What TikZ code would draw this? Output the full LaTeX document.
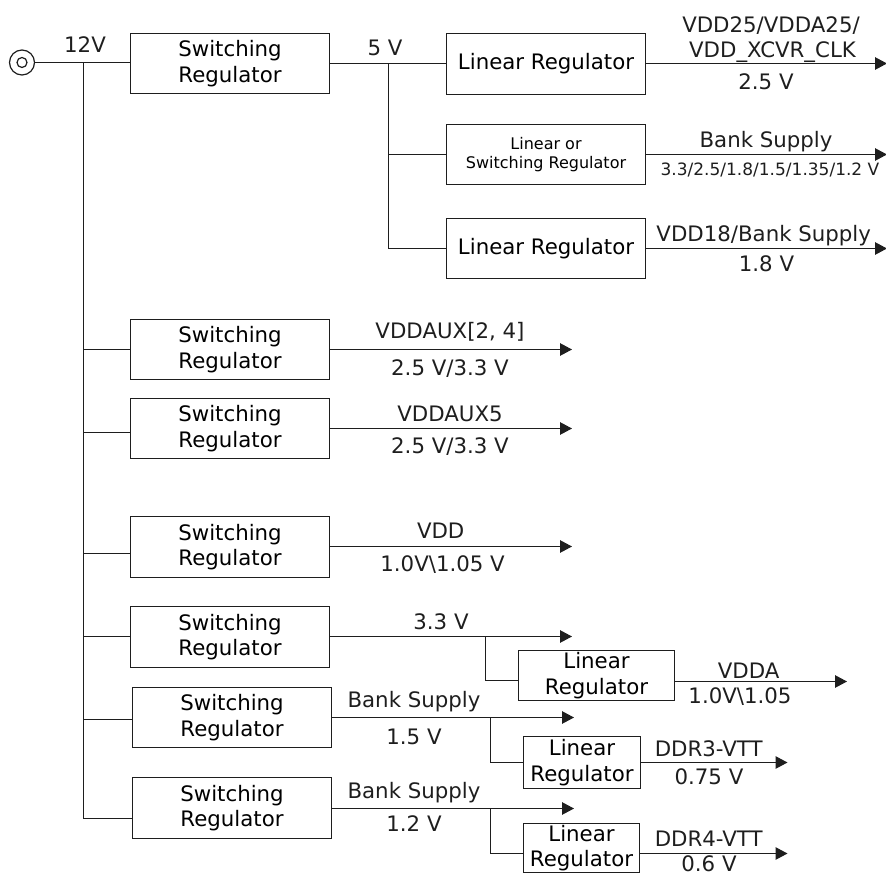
\documentclass[tikz,border=0pt]{standalone}
\usepackage{fontspec}
\setmainfont{DejaVu Sans}
\usetikzlibrary{arrows.meta}
\definecolor{ink}{HTML}{1E1E1E}
\tikzset{
  wire/.style={draw=ink,line width=1.2pt},
  arr/.style={wire,-{Triangle[length=12pt,width=12.5pt]}},
  box/.style={draw=ink,line width=1.2pt,inner sep=0pt,align=center,font=\fontsize{21.3}{25.5}\selectfont},
  smallbox/.style={box,font=\fontsize{16}{19}\selectfont},
  lab/.style={anchor=base,inner sep=0pt,text=ink,font=\fontsize{21.3}{24}\selectfont},
  tinylab/.style={lab,font=\fontsize{17}{19}\selectfont},
  sz/.style 2 args={minimum width=#1pt,minimum height=#2pt}
}
\begin{document}
\begin{tikzpicture}[x=1pt,y=-1pt]
\useasboundingbox (0,0) rectangle (886,877);
% source
\node (jack) [circle,draw=ink,line width=1.2pt,minimum size=25pt,inner sep=0pt] at (22,62.5) {};
\node (jackin) [circle,draw=ink,line width=1.2pt,minimum size=10pt,inner sep=0pt] at (22,62.5) {};
% first branch boxes
\node (s0) [box,sz={199}{60}] at (230,63.5) {Switching\\Regulator};
\node (l1) [box,sz={199}{61}] at (546,64) {Linear Regulator};
\node (l2) [smallbox,sz={199}{60}] at (546,154.5) {Linear or\\Switching Regulator};
\node (l3) [box,sz={199}{60}] at (546,248.5) {Linear Regulator};
% lower switching boxes
\node (sa) [box,sz={199}{60}] at (230,349.5) {Switching\\Regulator};
\node (sb) [box,sz={199}{60}] at (230,428.5) {Switching\\Regulator};
\node (sc) [box,sz={199}{61}] at (230,547) {Switching\\Regulator};
\node (sd) [box,sz={199}{61}] at (230,637) {Switching\\Regulator};
\node (se) [box,sz={199}{60}] at (232,717.5) {Switching\\Regulator};
\node (sf) [box,sz={199}{61}] at (232,808) {Switching\\Regulator};
% lower linear boxes
\node (ld) [box,sz={156}{50}] at (596.5,675.5) {Linear\\Regulator};
\node (le) [box,sz={117}{52}] at (582,762.5) {Linear\\Regulator};
\node (lf) [box,sz={116}{49}] at (581.5,848) {Linear\\Regulator};
% junctions and free ends
\coordinate (bus0) at (83.5,62.5);
\coordinate (busa) at (83.5,349.5);
\coordinate (busb) at (83.5,432.5);
\coordinate (busc) at (83.5,553.5);
\coordinate (busd) at (83.5,636.5);
\coordinate (buse) at (83.5,719.5);
\coordinate (busf) at (83.5,818.5);
\coordinate (j5) at (388.5,63.5);
\coordinate (j5b) at (388.5,154.5);
\coordinate (j5c) at (388.5,248.5);
\coordinate (jd) at (485.5,636.5);
\coordinate (jd2) at (485.5,680.5);
\coordinate (je) at (490.5,717.5);
\coordinate (je2) at (490.5,762.5);
\coordinate (jf) at (490.5,808.5);
\coordinate (jf2) at (490.5,853.5);
\coordinate (t1) at (887,63.5);
\coordinate (t2) at (887,154.5);
\coordinate (t3) at (887,248.5);
\coordinate (ta) at (572,349.5);
\coordinate (tb) at (572,428.5);
\coordinate (tc) at (572,546.5);
\coordinate (td) at (572,636.5);
\coordinate (te) at (574,717.5);
\coordinate (tf) at (574,808.5);
\coordinate (tld) at (847,681.5);
\coordinate (tle) at (787.5,762.5);
\coordinate (tlf) at (787.5,853.5);
% input and bus
\draw[wire] (jack) -- (s0.west |- jack);
\draw[wire] (bus0) -- (busf) -- (busf -| sf.west);
\draw[wire] (busa) -- (busa -| sa.west);
\draw[wire] (busb) -- (busb -| sb.west);
\draw[wire] (busc) -- (busc -| sc.west);
\draw[wire] (busd) -- (busd -| sd.west);
\draw[wire] (buse) -- (buse -| se.west);
% 5 V rail
\draw[wire] (s0.east |- j5) -- (l1.west |- j5);
\draw[wire] (j5) -- (j5c) -- (l3.west |- j5c);
\draw[wire] (j5b) -- (l2.west |- j5b);
\draw[arr] (l1.east |- t1) -- (t1);
\draw[arr] (l2.east |- t2) -- (t2);
\draw[arr] (l3.east |- t3) -- (t3);
% outputs
\draw[arr] (sa.east |- ta) -- (ta);
\draw[arr] (sb.east |- tb) -- (tb);
\draw[arr] (sc.east |- tc) -- (tc);
\draw[arr] (sd.east |- td) -- (td);
\draw[arr] (se.east |- te) -- (te);
\draw[arr] (sf.east |- tf) -- (tf);
\draw[wire] (jd) -- (jd2) -- (ld.west |- jd2);
\draw[wire] (je) -- (je2) -- (le.west |- je2);
\draw[wire] (jf) -- (jf2) -- (lf.west |- jf2);
\draw[arr] (ld.east |- tld) -- (tld);
\draw[arr] (le.east |- tle) -- (tle);
\draw[arr] (lf.east |- tlf) -- (tlf);
% labels
\node (v12) [lab] at (85,53) {12V};
\node (v5) [lab] at (385,56) {5 V};
\node (n1a) [lab] at (771,33) {VDD25/VDDA25/};
\node (n1b) [lab] at (772.5,57.5) {VDD\_XCVR\_CLK};
\node (n1c) [lab] at (766,89.5) {2.5 V};
\node (n2a) [lab] at (766,148) {Bank Supply};
\node (n2b) [tinylab] at (770,176) {3.3/2.5/1.8/1.5/1.35/1.2 V};
\node (n3a) [lab] at (763.7,241.5) {VDD18/Bank Supply};
\node (n3b) [lab] at (766.5,272) {1.8 V};
\node (naa) [lab] at (450,338.5) {VDDAUX[2, 4]};
\node (nab) [lab] at (450,375.5) {2.5 V/3.3 V};
\node (nba) [lab] at (450,421.5) {VDDAUX5};
\node (nbb) [lab] at (450,453) {2.5 V/3.3 V};
\node (nca) [lab] at (440.7,538.5) {VDD};
\node (ncb) [lab] at (442.6,571.5) {1.0V\textbackslash 1.05 V};
\node (nda) [lab] at (441,629.5) {3.3 V};
\node (nea) [lab] at (414,707) {Bank Supply};
\node (neb) [lab] at (414,744.5) {1.5 V};
\node (nfa) [lab] at (414,798) {Bank Supply};
\node (nfb) [lab] at (414,831.5) {1.2 V};
\node (ldA) [lab] at (748.7,678.5) {VDDA};
\node (ldB) [lab] at (740,703.5) {1.0V\textbackslash 1.05};
\node (leA) [lab] at (708.7,756) {DDR3-VTT};
\node (leB) [lab] at (709,784.5) {0.75 V};
\node (lfA) [lab] at (708.7,846) {DDR4-VTT};
\node (lfB) [lab] at (709,871.5) {0.6 V};
\end{tikzpicture}
\end{document}
